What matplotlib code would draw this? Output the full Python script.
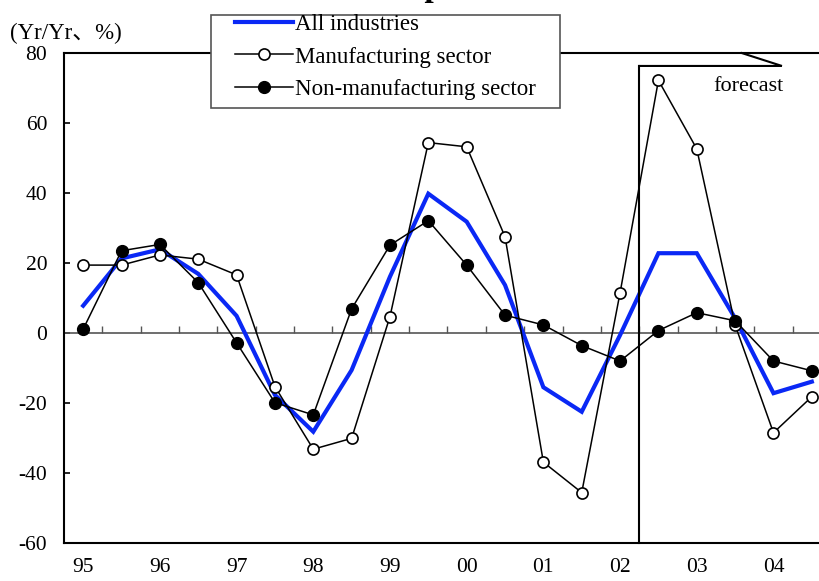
import matplotlib
matplotlib.use("Agg")
import matplotlib.pyplot as plt
from matplotlib.patches import Rectangle
import numpy as np

# Datos semestrales 95H1 .. 04H2 (variación interanual, %)
year_labels = ["95", "96", "97", "98", "99", "00", "01", "02", "03", "04"]
all_ind = [7.8, 21.3, 23.9, 16.9, 4.9, -17.7, -28.2, -10.6, 16.1, 39.8,
           31.8, 13.7, -15.5, -22.5, -0.6, 22.8, 22.8, 4.2, -17.2, -13.9]
manuf = [19.4, 19.4, 22.3, 21.1, 16.6, -15.3, -33.2, -30.1, 4.7, 54.4,
         53.2, 27.5, -36.9, -45.6, 11.5, 72.2, 52.6, 2.3, -28.5, -18.2]
non_manuf = [1.1, 23.5, 25.3, 14.4, -2.8, -19.9, -23.4, 6.9, 25.1, 32.1,
             19.4, 5.1, 2.3, -3.6, -8.0, 0.7, 5.8, 3.5, -8.0, -10.8]

x = np.arange(len(all_ind))
forecast_start = 14.5

serif = ["Liberation Serif", "Noto Sans CJK JP", "DejaVu Sans"]
plt.rcParams["font.family"] = serif
plt.rcParams["axes.unicode_minus"] = False

fig = plt.figure(figsize=(8.2, 5.81), dpi=100)
W, H = 820, 581
ax = fig.add_axes([64 / W, 38 / H, (831 - 64) / W, 490 / H])

l1, = ax.plot(x, all_ind, color="#0a28f5", lw=3.0, zorder=3,
              solid_joinstyle="miter")
l2, = ax.plot(x, manuf, color="black", lw=1.1, marker="o", ms=8,
              mfc="white", mec="black", mew=1.2, zorder=4)
l3, = ax.plot(x, non_manuf, color="black", lw=1.1, marker="o", ms=8.5,
              mfc="black", mec="black", zorder=5)

# línea del cero con marcas pequeñas
ax.axhline(0, color="#555555", lw=1.2, zorder=2)
ax.vlines(x[:-1] + 0.5, 0, 2, color="#555555", lw=1.0, zorder=2)

ax.set_xlim(-0.5, len(x) - 0.5)
ax.set_ylim(-60, 80)
ax.set_yticks(np.arange(-60, 81, 20))
ax.set_xticks(x[::2])
ax.set_xticklabels(year_labels)
ax.tick_params(axis="y", direction="in", length=4.5, width=1.2, pad=12,
               labelsize=15.5)
ax.tick_params(axis="x", length=0, pad=11, labelsize=15.5)
for s in ["left", "bottom", "top"]:
    ax.spines[s].set_linewidth(1.5)
ax.spines["right"].set_visible(False)

# recuadro de pronóstico
ytop = 76.3
ax.plot([forecast_start, forecast_start], [-60, ytop], color="black",
        lw=1.5, clip_on=False, zorder=6)
ax.plot([forecast_start, 18.22, 17.17], [ytop, ytop, 80], color="black",
        lw=1.5, clip_on=False, zorder=6, solid_joinstyle="miter")
ax.text(17.34, 70.3, "forecast", ha="center", va="center", fontsize=16)

# leyenda con recuadro propio
fig.patches.append(Rectangle((211 / W, 1 - 108 / H), (560 - 211) / W,
                             (108 - 15) / H, transform=fig.transFigure,
                             facecolor="white", edgecolor="#555555",
                             lw=1.2, zorder=1))
fig.legend([l1, l2, l3],
           ["All industries", "Manufacturing sector", "Non-manufacturing sector"],
           loc="upper left", bbox_to_anchor=(232 / W, 1 - 11 / H),
           frameon=False, fontsize=16.5, handlelength=2.5, handletextpad=0.1,
           labelspacing=0.48, borderpad=0.15, borderaxespad=0)

fig.text(10 / W, 1 - 33 / H, "(Yr/Yr、%)", fontsize=16.5, va="center",
         ha="left")
fig.text(300 / W, 1 + 4 / H, "Current profits", fontsize=24,
         fontweight="bold", ha="left", va="baseline")

fig.savefig("out.png", dpi=100)
